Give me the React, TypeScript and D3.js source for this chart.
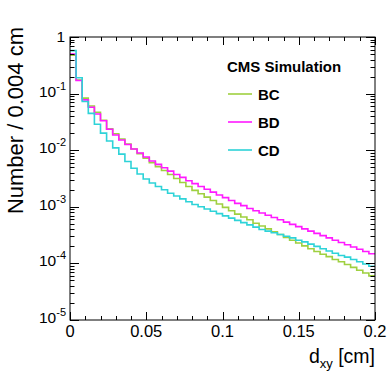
import React from 'react';
import * as d3 from 'd3';

// 50 bins of 0.004 cm between 0 and 0.2
const BIN_WIDTH = 0.004;
const binEdges = d3.range(0, 51).map((i) => +(i * BIN_WIDTH).toFixed(3));

const seriesNames = ['BC', 'BD', 'CD'];
const seriesColors = ['#9fd040', '#ff1aff', '#2ed3d8'];

const bcValues = [
  0.479, 0.174, 0.0832, 0.0603, 0.0468, 0.0339, 0.024, 0.0195, 0.0158, 0.0129,
  0.0105, 0.00871, 0.00724, 0.00603, 0.00513, 0.00437, 0.00372, 0.00316, 0.00269, 0.00229,
  0.00195, 0.0017, 0.00148, 0.00129, 0.00112, 0.000977, 0.000851, 0.000741, 0.000661, 0.000589,
  0.000513, 0.000457, 0.000407, 0.000363, 0.000324, 0.000288, 0.000257, 0.000229, 0.000204, 0.000182,
  0.000162, 0.000145, 0.000132, 0.000117, 0.000107, 0.0000955, 0.0000851, 0.0000759, 0.0000676, 0.0000603,
];
const bdValues = [
  0.501, 0.17, 0.0776, 0.0575, 0.0437, 0.0331, 0.0234, 0.0186, 0.0151, 0.0126,
  0.0105, 0.00891, 0.00759, 0.00646, 0.00562, 0.0049, 0.00427, 0.00372, 0.00331, 0.00288,
  0.00257, 0.00229, 0.00204, 0.00182, 0.00162, 0.00145, 0.00129, 0.00115, 0.00105, 0.000933,
  0.000851, 0.000776, 0.000708, 0.000646, 0.000589, 0.000537, 0.00049, 0.000447, 0.000407, 0.000372,
  0.000339, 0.000309, 0.000282, 0.000257, 0.000234, 0.000214, 0.000195, 0.000178, 0.000162, 0.000148,
];
const cdValues = [
  0.575, 0.191, 0.0724, 0.0447, 0.0288, 0.02, 0.0145, 0.011, 0.00851, 0.00631,
  0.00479, 0.0038, 0.00309, 0.00263, 0.00229, 0.002, 0.00174, 0.00155, 0.00138, 0.00123,
  0.0011, 0.001, 0.000912, 0.000832, 0.000759, 0.000692, 0.000631, 0.000575, 0.000525, 0.000479,
  0.000437, 0.000398, 0.000372, 0.000347, 0.000324, 0.000302, 0.000282, 0.000257, 0.00024, 0.000219,
  0.0002, 0.000182, 0.000166, 0.000151, 0.000138, 0.000129, 0.000117, 0.000107, 0.0000977, 0.0000891,
];

const xTickValues = [0, 0.05, 0.1, 0.15, 0.2];
const xTickLabels = ['0', '0.05', '0.1', '0.15', '0.2'];
const yDecades = [0, -1, -2, -3, -4, -5];

const W = 388;
const H = 374;
const left = 70;
const right = 375;
const top = 37;
const bottom = 320;
const FONT = '"Liberation Sans", Arial, Helvetica, sans-serif';

const x = d3.scaleLinear().domain([0, 0.2]).range([left, right]);
const y = d3.scaleLog().domain([1e-5, 1]).range([bottom, top]);

const histLine = d3
  .line<[number, number]>()
  .x((d) => x(d[0]))
  .y((d) => y(d[1]));

const stepPoints = (values: number[]): [number, number][] =>
  values.flatMap((v, i) => [
    [binEdges[i], v] as [number, number],
    [binEdges[i + 1], v] as [number, number],
  ]);

const allSeries = [bcValues, bdValues, cdValues];

const App = () => {
  const yTicks = y.ticks();
  const xTicks = x.ticks(20);
  const isMajorY = (t: number) => Math.abs(Math.log10(t) - Math.round(Math.log10(t))) < 1e-6;
  const isMajorX = (t: number) => Math.abs(t / 0.05 - Math.round(t / 0.05)) < 1e-6;

  return (
    <svg
      width={W}
      height={H}
      style={{ position: 'absolute', left: 0, top: 0, background: '#fff' }}
      fontFamily={FONT}
    >
      <rect x={0} y={0} width={W} height={H} fill="#fff" />

      {/* histograms */}
      <g fill="none" strokeWidth={1.6}>
        {allSeries.map((vals, i) => (
          <path key={seriesNames[i]} d={histLine(stepPoints(vals)) || ''} stroke={seriesColors[i]} />
        ))}
      </g>

      {/* frame */}
      <rect x={left} y={top} width={right - left} height={bottom - top} fill="none" stroke="#000" strokeWidth={1} />

      {/* ticks on all four sides, pointing inward */}
      <g stroke="#000" strokeWidth={1}>
        {yTicks.map((t, i) => {
          const len = isMajorY(t) ? 9 : 4.5;
          const yy = Math.round(y(t)) + 0.5;
          return (
            <g key={i}>
              <line x1={left} x2={left + len} y1={yy} y2={yy} />
              <line x1={right} x2={right - len} y1={yy} y2={yy} />
            </g>
          );
        })}
        {xTicks.map((t, i) => {
          const len = isMajorX(t) ? 8 : 4;
          const xx = Math.round(x(t)) + 0.5;
          return (
            <g key={i}>
              <line x1={xx} x2={xx} y1={bottom} y2={bottom - len} />
              <line x1={xx} x2={xx} y1={top} y2={top + len} />
            </g>
          );
        })}
      </g>

      {/* y tick labels */}
      <g fontSize={15.5} fill="#000">
        {yDecades.map((e) => {
          const yy = y(Math.pow(10, e));
          if (e === 0) {
            return (
              <text key={e} x={65} y={yy + 5} textAnchor="end">
                1
              </text>
            );
          }
          return (
            <text key={e} x={66} y={yy + 3} textAnchor="end">
              10
              <tspan fontSize={11} dy={-7}>
                {String(e)}
              </tspan>
            </text>
          );
        })}
      </g>

      {/* x tick labels */}
      <g fontSize={16.5} fill="#000" textAnchor="middle">
        {xTickValues.map((t, i) => (
          <text key={i} x={x(t)} y={337}>
            {xTickLabels[i]}
          </text>
        ))}
      </g>

      {/* axis titles */}
      <text
        transform="translate(23,27) rotate(-90)"
        textAnchor="end"
        fontSize={22}
        fill="#000"
      >
        Number / 0.004 cm
      </text>
      <text x={right} y={363} textAnchor="end" fontSize={19.5} fill="#000">
        d
        <tspan fontSize={13} dy={5}>
          xy
        </tspan>
        <tspan dy={-5}> [cm]</tspan>
      </text>

      {/* legend */}
      <text x={227} y={72} fontSize={15} fontWeight="bold" fill="#000">
        CMS Simulation
      </text>
      {seriesNames.map((name, i) => {
        const ly = 94 + i * 28;
        return (
          <g key={name}>
            <line x1={228} x2={252} y1={ly} y2={ly} stroke={seriesColors[i]} strokeWidth={1.6} />
            <text x={258} y={ly + 5.5} fontSize={15} fontWeight="bold" fill="#000">
              {name}
            </text>
          </g>
        );
      })}
    </svg>
  );
};

export default App;
